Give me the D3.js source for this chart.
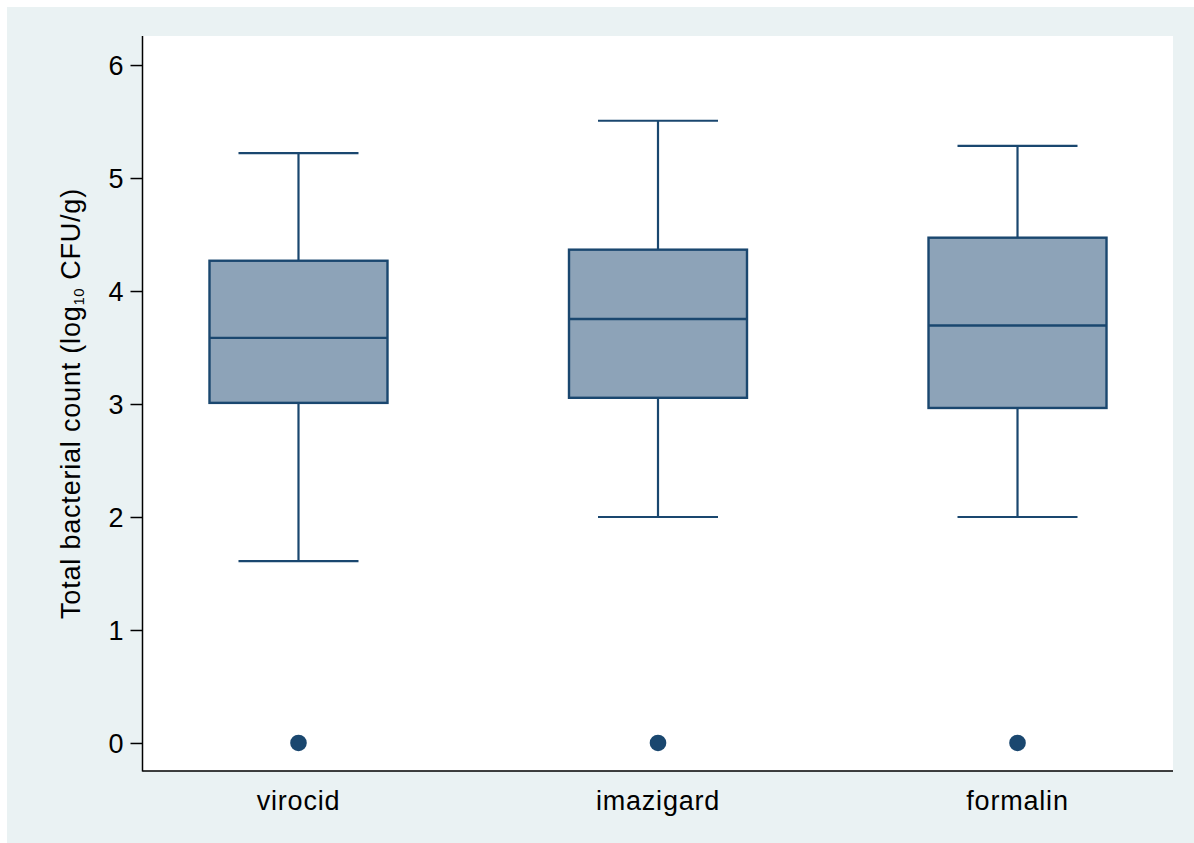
<!DOCTYPE html>
<html>
<head>
<meta charset="utf-8">
<script src="https://cdn.jsdelivr.net/npm/d3@7"></script>
<style>
  body { margin: 0; background: #ffffff; }
  text { font-family: "Liberation Sans", Arial, sans-serif; fill: #000; }
</style>
</head>
<body>
<div id="chart"></div>
<script>
// box plot values (log10 CFU/g)
var groups = ["virocid", "imazigard", "formalin"];
var whiskerLow = [1.61, 2.00, 2.00];
var q1 = [3.01, 3.055, 2.965];
var median = [3.585, 3.752, 3.695];
var q3 = [4.268, 4.366, 4.472];
var whiskerHigh = [5.22, 5.507, 5.285];
var outliers = [0, 0, 0];
var yTicks = [0, 1, 2, 3, 4, 5, 6];

var navy = "#1a476f";
var boxFill = "#8da3b8";

/**
 * Adds the svg with the grey-blue Stata style background.
 */
function appendSVG(id) {
    var svg = d3.select("#" + id)
        .append("svg")
        .attr("width", 1194)
        .attr("height", 843);

    svg.append("rect")
        .attr("x", 7).attr("y", 7)
        .attr("width", 1187).attr("height", 836)
        .attr("fill", "#eaf2f3");

    return svg;
}

function drawBoxPlot() {
    var svg = appendSVG("chart");
    var plot = { left: 143, right: 1173, top: 36, bottom: 771 };

    svg.append("rect")
        .attr("x", plot.left).attr("y", plot.top)
        .attr("width", plot.right - plot.left)
        .attr("height", plot.bottom - plot.top)
        .attr("fill", "#ffffff");

    var x = d3.scalePoint()
        .domain(groups)
        .range([plot.left, plot.right])
        .padding(0.4325);

    var y = d3.scaleLinear()
        .domain([-0.248, 6.257])
        .range([plot.bottom, plot.top]);

    var boxW = 178, capW = 120;

    // y axis
    var yAxis = svg.append("g")
        .attr("transform", "translate(" + (plot.left - 0.5) + ",0)")
        .call(d3.axisLeft(y).tickValues(yTicks).tickFormat(d3.format("d")).tickSize(12).tickPadding(7));
    yAxis.select(".domain").remove();
    yAxis.selectAll("line").attr("stroke", "#000").attr("stroke-width", 1.5);
    yAxis.selectAll("text").style("font-size", "27px").attr("dy", "0.36em");

    svg.append("line")
        .attr("x1", plot.left - 0.5).attr("x2", plot.left - 0.5)
        .attr("y1", plot.top).attr("y2", plot.bottom + 0.5)
        .attr("stroke", "#000").attr("stroke-width", 1.5);
    svg.append("line")
        .attr("x1", plot.left - 0.5).attr("x2", plot.right)
        .attr("y1", plot.bottom).attr("y2", plot.bottom)
        .attr("stroke", "#000").attr("stroke-width", 1.5);

    // x labels
    svg.selectAll(".xlab")
        .data(groups)
        .enter().append("text")
        .attr("class", "xlab")
        .attr("x", function (d) { return x(d); })
        .attr("y", 810)
        .attr("text-anchor", "middle")
        .style("font-size", "27px")
        .style("letter-spacing", "0.8px")
        .text(function (d) { return d; });

    // y title
    var title = svg.append("text")
        .attr("transform", "translate(80," + ((plot.top + plot.bottom) / 2) + ") rotate(-90)")
        .attr("text-anchor", "middle")
        .style("font-size", "27px")
        .style("letter-spacing", "0.8px");
    title.append("tspan").text("Total bacterial count (log");
    title.append("tspan").attr("dy", 4).style("font-size", "15px").style("letter-spacing", "0.3px").text("10");
    title.append("tspan").attr("dy", -4).text(" CFU/g)");

    var g = svg.selectAll(".box")
        .data(groups)
        .enter().append("g")
        .attr("class", "box");

    // whiskers
    g.append("line")
        .attr("x1", function (d) { return x(d); })
        .attr("x2", function (d) { return x(d); })
        .attr("y1", function (d, i) { return y(whiskerHigh[i]); })
        .attr("y2", function (d, i) { return y(q3[i]); })
        .attr("stroke", navy).attr("stroke-width", 2.2);
    g.append("line")
        .attr("x1", function (d) { return x(d); })
        .attr("x2", function (d) { return x(d); })
        .attr("y1", function (d, i) { return y(q1[i]); })
        .attr("y2", function (d, i) { return y(whiskerLow[i]); })
        .attr("stroke", navy).attr("stroke-width", 2.2);

    // caps
    [whiskerHigh, whiskerLow].forEach(function (arr) {
        g.append("line")
            .attr("x1", function (d) { return x(d) - capW / 2; })
            .attr("x2", function (d) { return x(d) + capW / 2; })
            .attr("y1", function (d, i) { return y(arr[i]); })
            .attr("y2", function (d, i) { return y(arr[i]); })
            .attr("stroke", navy).attr("stroke-width", 2.2);
    });

    // box
    g.append("rect")
        .attr("x", function (d) { return x(d) - boxW / 2; })
        .attr("y", function (d, i) { return y(q3[i]); })
        .attr("width", boxW)
        .attr("height", function (d, i) { return y(q1[i]) - y(q3[i]); })
        .attr("fill", boxFill)
        .attr("stroke", navy).attr("stroke-width", 2.4);

    // median
    g.append("line")
        .attr("x1", function (d) { return x(d) - boxW / 2; })
        .attr("x2", function (d) { return x(d) + boxW / 2; })
        .attr("y1", function (d, i) { return y(median[i]); })
        .attr("y2", function (d, i) { return y(median[i]); })
        .attr("stroke", navy).attr("stroke-width", 2.4);

    // outliers
    g.append("circle")
        .attr("cx", function (d) { return x(d); })
        .attr("cy", function (d, i) { return y(outliers[i]); })
        .attr("r", 8.3)
        .attr("fill", navy);
}

drawBoxPlot();
</script>
</body>
</html>
